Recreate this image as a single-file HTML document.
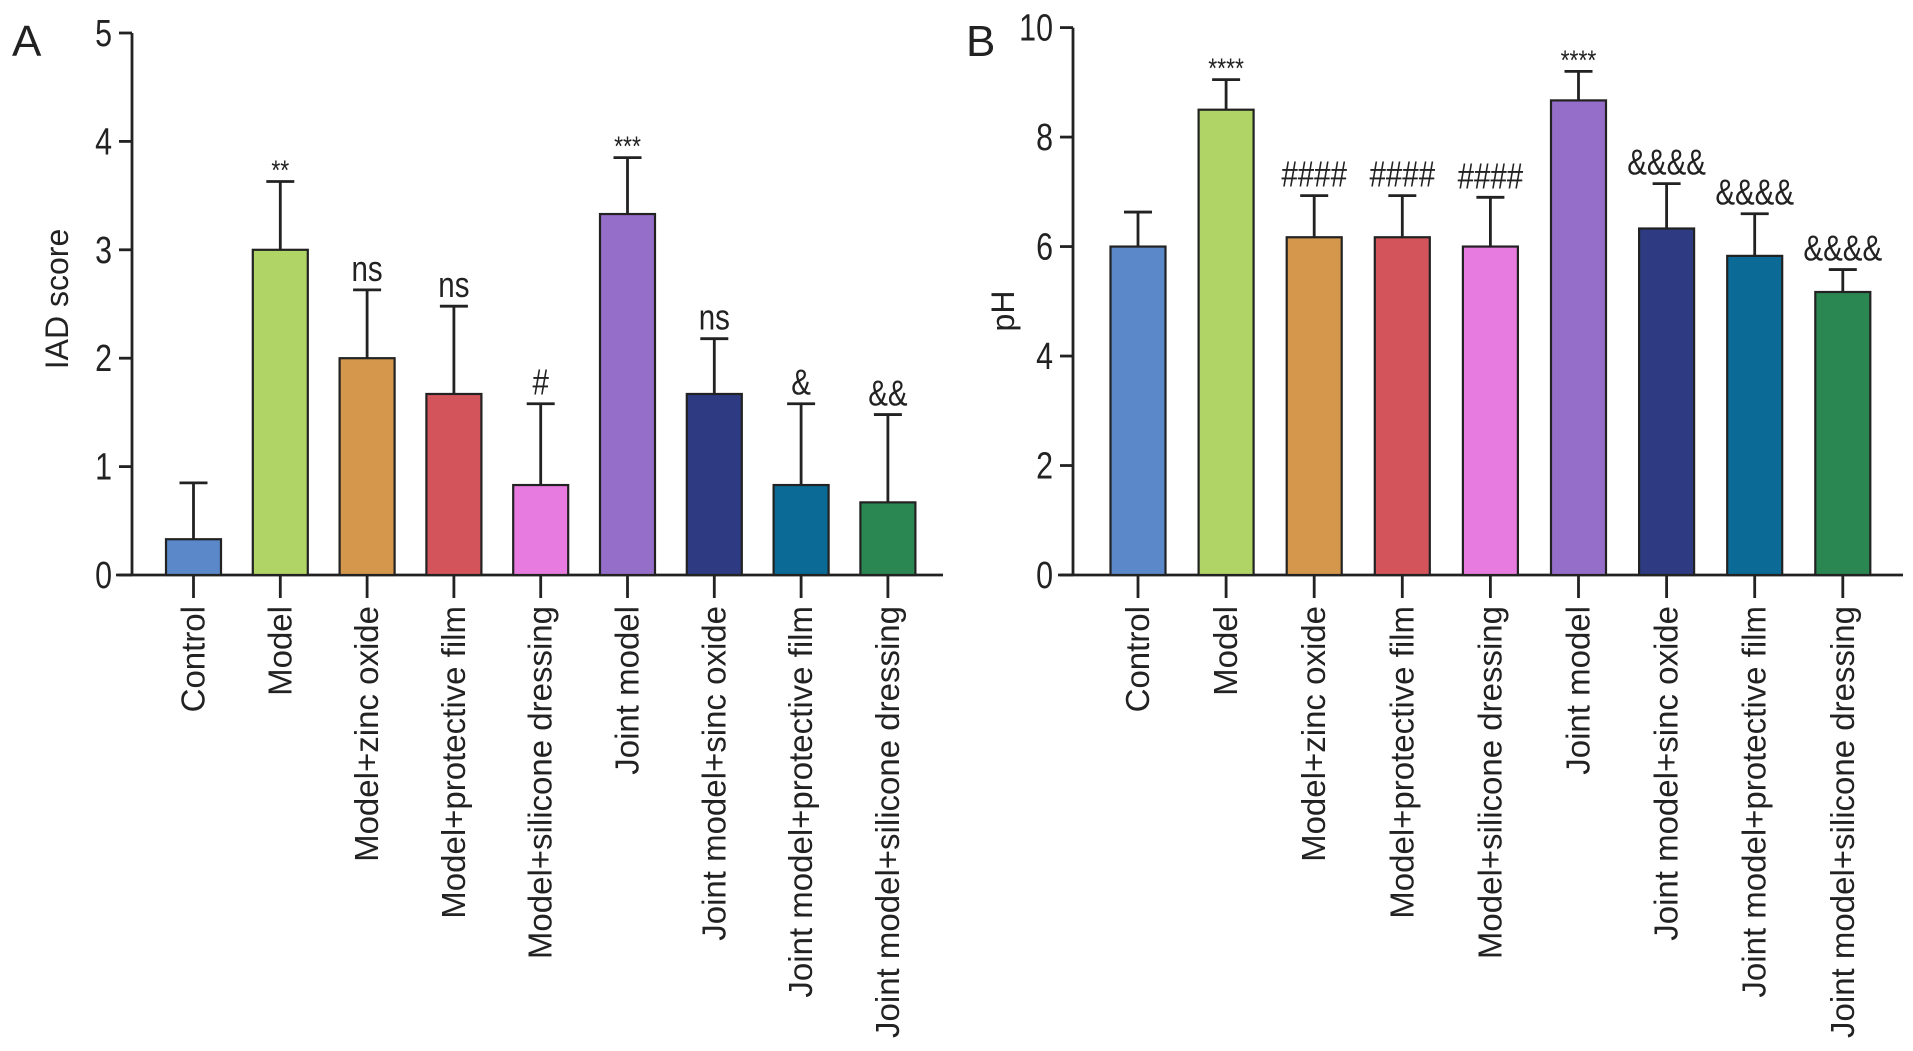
<!DOCTYPE html>
<html><head><meta charset="utf-8"><style>
html,body{margin:0;padding:0;background:#fff;}
svg{display:block;font-family:"Liberation Sans",Arial,sans-serif;}
</style></head><body>
<svg id="c" width="1913" height="1051" viewBox="0 0 1913 1051"></svg>
<script>
const categories=["Control","Model","Model+zinc oxide","Model+protective film","Model+silicone dressing","Joint model","Joint model+sinc oxide","Joint model+protective film","Joint model+silicone dressing"];
const colors=["#5b88c8","#b0d465","#d4974c","#d4545c","#e87be0","#956ec9","#2e3b82","#0b6b96","#2a8752"];
const iadValues=[0.33,3.0,2.0,1.67,0.83,3.33,1.67,0.83,0.67];
const iadErrTop=[0.85,3.63,2.63,2.48,1.58,3.85,2.18,1.58,1.48];
const iadMarks=["","**","ns","ns","#","***","ns","&","&&"];
const iadTicks=[0,1,2,3,4,5];
const phValues=[6.0,8.5,6.17,6.17,6.0,8.67,6.33,5.83,5.17];
const phErrTop=[6.63,9.05,6.93,6.93,6.9,9.2,7.15,6.6,5.58];
const phMarks=["","****","####","####","####","****","&&&&","&&&&","&&&&"];
const phTicks=[0,2,4,6,8,10];

const svg=document.getElementById('c');
const NS='http://www.w3.org/2000/svg';
function mk(tag,attrs,parent){const e=document.createElementNS(NS,tag);for(const k in attrs)e.setAttribute(k,attrs[k]);(parent||svg).appendChild(e);return e;}

function panel(p){
  const g=mk('g',{});
  
  
  const y=v=>p.y0-(v/p.max)*(p.y0-p.yTop);
  const x=i=>p.x0+i*p.step;
  const ya=mk('line',{x1:p.ax,y1:p.yTop,x2:p.ax,y2:p.y0,stroke:'#222','stroke-width':2.8},g);
  
  
  p.ticks.forEach(t=>{
    mk('line',{x1:p.ax-13,y1:y(t),x2:p.ax,y2:y(t),stroke:'#222','stroke-width':2.8},g);
    const tl=mk('text',{x:p.ax-20,y:y(t)+13,'text-anchor':'end','font-size':38,fill:'#222',transform:`translate(${p.ax-20},0) scale(0.8,1) translate(${-(p.ax-20)},0)`},g);
    tl.textContent=t;
    
    
  });
  const xa=mk('line',{x1:p.bx1,y1:p.y0,x2:p.bx2,y2:p.y0,stroke:'#222','stroke-width':2.8},g);
  
  
  const at=mk('text',{x:0,y:0,'text-anchor':'middle','font-size':32,fill:'#222',transform:`translate(${p.titleX},${p.titleY}) rotate(-90)`},g);
  at.textContent=p.title;
  
  
  const pl=mk('text',{x:p.letterX,y:56,'font-size':44,fill:'#222'},g);
  pl.textContent=p.letter;
  
  
  p.values.forEach((v,i)=>{
    const cx=x(i),w=55;
    const el=mk('line',{x1:cx,y1:y(v),x2:cx,y2:y(p.err[i]),stroke:'#222','stroke-width':2.8},g);
    
    
    mk('line',{x1:cx-14,y1:y(p.err[i]),x2:cx+14,y2:y(p.err[i]),stroke:'#222','stroke-width':2.8},g);
    const r=mk('rect',{x:cx-w/2,y:y(v),width:w,height:p.y0-y(v),fill:colors[i],stroke:'#222','stroke-width':2.2},g);
    
    
    mk('line',{x1:cx,y1:p.y0,x2:cx,y2:p.y0+23,stroke:'#222','stroke-width':2.8},g);
    if(p.marks[i]){
      const star=p.marks[i].includes('*');
      const m=mk('text',{x:cx,y:y(p.err[i])-(star?2:9),'text-anchor':'middle','font-size':star?28:36,fill:'#222',transform:`translate(${cx},0) scale(0.82,1) translate(${-cx},0)`},g);
      m.textContent=p.marks[i];
      
      
    }
    const lb=mk('text',{x:0,y:0,'text-anchor':'end','font-size':33,fill:'#222',transform:`translate(${cx+11},606) rotate(-90)`},g);
    lb.textContent=categories[i];
    
    
  });
}
panel({name:'iad-score-chart',ax:132,yTop:33,y0:575,max:5,x0:193.5,step:86.8,bx1:116,bx2:943,ticks:iadTicks,values:iadValues,err:iadErrTop,marks:iadMarks,title:'IAD score',titleX:68,titleY:299,letter:'A',letterX:12});
panel({name:'ph-chart',ax:1073,yTop:27.6,y0:575,max:10,x0:1138,step:88.1,bx1:1058,bx2:1903,ticks:phTicks,values:phValues,err:phErrTop,marks:phMarks,title:'pH',titleX:1014,titleY:311,letter:'B',letterX:966});
</script>
</body></html>
